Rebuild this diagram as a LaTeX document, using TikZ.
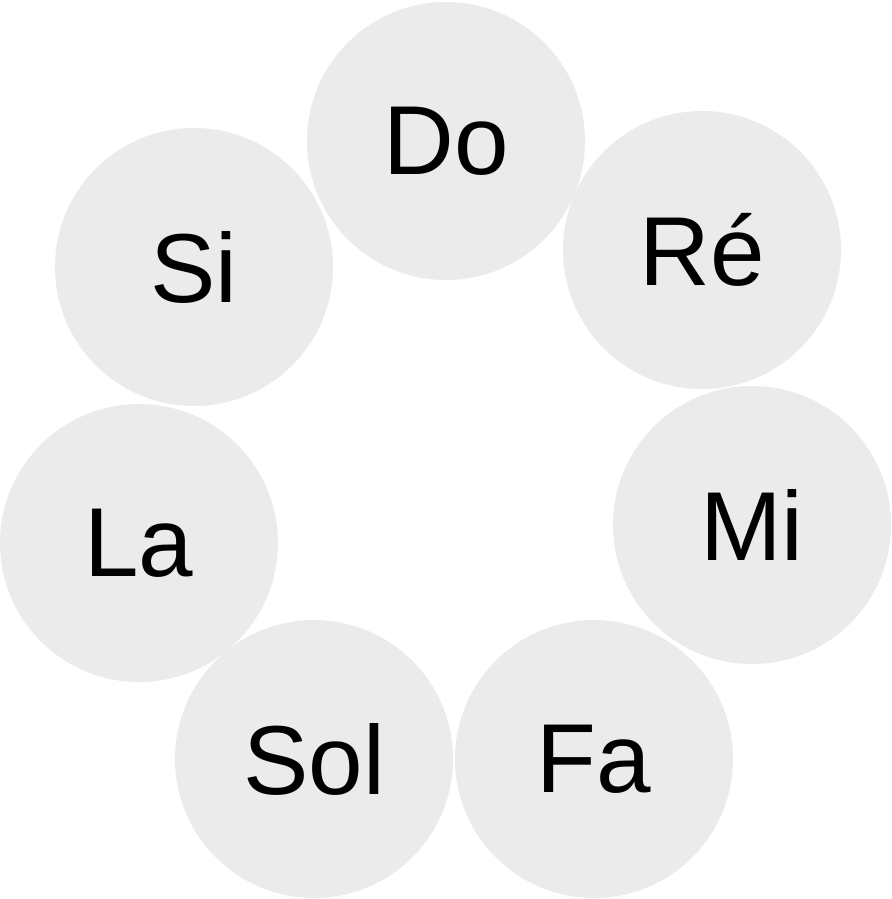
\documentclass[tikz,border=0pt]{standalone}
\usepackage{fontspec}
\setmainfont{Liberation Sans}
\definecolor{notegray}{HTML}{EBEBEB}
\tikzset{note/.style={circle,fill=notegray,minimum size=278pt,inner sep=0pt,font=\fontsize{98}{98}\selectfont}}
\begin{document}
\begin{tikzpicture}[x=1pt,y=-1pt]
\useasboundingbox (0,0) rectangle (891,899);
%%% The seven notes around the circle
\node[note] (do) at (446,141) {Do};
\node[note] (re) at (702,250) {Ré};
\node[note] (mi) at (752,525) {Mi};
\node[note] (fa) at (594,759) {Fa};
\node[note] (sol) at (314,759) {Sol};
\node[note] (la) at (139,543) {La};
\node[note] (si) at (194,267) {Si};
\end{tikzpicture}
\end{document}
